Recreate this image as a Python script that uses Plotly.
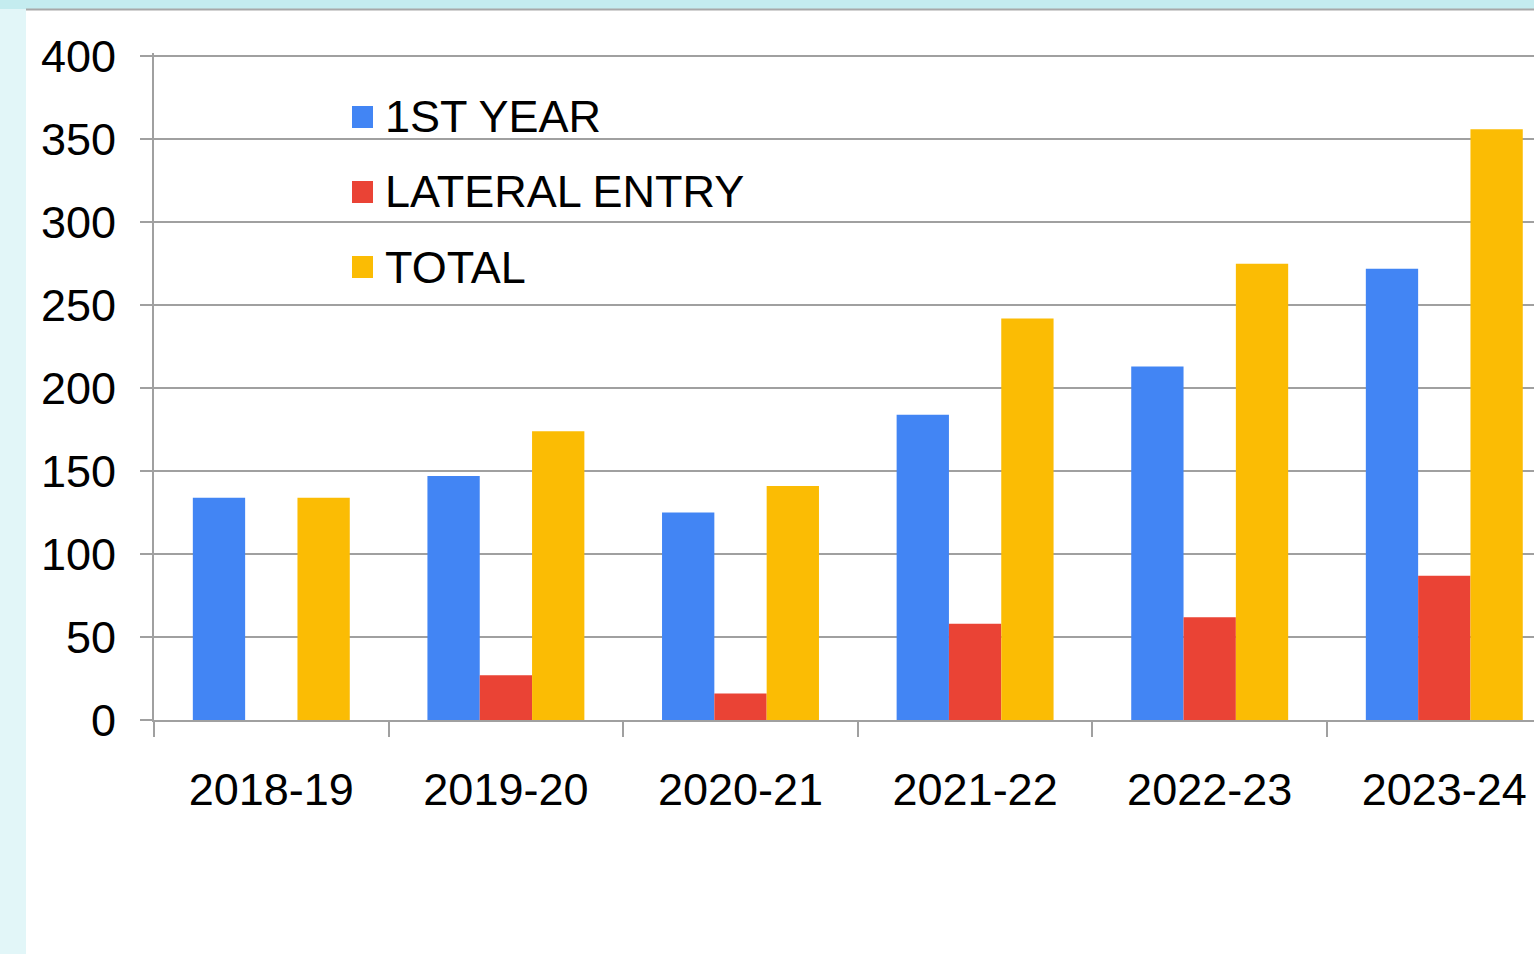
import plotly.graph_objects as go

categories = ["2018-19", "2019-20", "2020-21", "2021-22", "2022-23", "2023-24"]
first_year = [134, 147, 125, 184, 213, 272]
lateral_entry = [0, 27, 16, 58, 62, 87]
total = [134, 174, 141, 242, 275, 356]
series_names = ["1ST YEAR", "LATERAL ENTRY", "TOTAL"]
series_colors = ["#4285F4", "#EA4335", "#FBBC04"]
y_ticks = [0, 50, 100, 150, 200, 250, 300, 350, 400]

W, H = 1534, 954
L, T, B, R = 154, 53, 234, 0
PW = W - L - R
PH = H - T - B
CAT_PX = 234.6
FONT = "Liberation Sans, Arial, sans-serif"
FS = 45


def px_x(px):
    return (px - L) / PW


def px_y(py):
    return (H - B - py) / PH


fig = go.Figure()
for name, vals, col in zip(series_names, [first_year, lateral_entry, total], series_colors):
    fig.add_trace(go.Bar(x=categories, y=vals, name=name, marker=dict(color=col, line=dict(width=0)),
                         showlegend=False))

shapes = [
    # left cyan strip
    dict(type="rect", xref="paper", yref="paper", x0=px_x(0), x1=px_x(26), y0=px_y(H), y1=px_y(0),
         fillcolor="#e2f6f8", line=dict(width=0), layer="below"),
    # top cyan strip
    dict(type="rect", xref="paper", yref="paper", x0=px_x(0), x1=px_x(W), y0=px_y(9), y1=px_y(0),
         fillcolor="#c4ecef", line=dict(width=0), layer="below"),
    dict(type="line", xref="paper", yref="paper", x0=px_x(26), x1=px_x(W), y0=px_y(9.5), y1=px_y(9.5),
         line=dict(color="#a8a8a8", width=2), layer="below"),
]

annotations = []
legend_y = [117, 192, 267]
for name, col, cy in zip(series_names, series_colors, legend_y):
    shapes.append(dict(type="rect", xref="paper", yref="paper", x0=px_x(352), x1=px_x(373),
                       y0=px_y(cy + 11), y1=px_y(cy - 11), fillcolor=col, line=dict(width=0)))
    annotations.append(dict(xref="paper", yref="paper", x=px_x(383), y=px_y(cy), text=name,
                            showarrow=False, xanchor="left", yanchor="middle",
                            font=dict(family=FONT, size=FS, color="black")))

fig.update_layout(
    width=W, height=H,
    margin=dict(l=L, r=R, t=T, b=B, pad=0),
    paper_bgcolor="white", plot_bgcolor="white",
    barmode="group", bargap=0.331, bargroupgap=0,
    font=dict(family=FONT, size=FS, color="black"),
    shapes=shapes, annotations=annotations,
    showlegend=False,
)
fig.update_xaxes(
    type="category", range=[-0.5, -0.5 + PW / CAT_PX],
    showline=True, linecolor="#a0a0a0", linewidth=2,
    ticks="outside", tickson="boundaries", ticklen=15, tickwidth=2, tickcolor="#a0a0a0",
    showgrid=False, ticklabelstandoff=29,
    tickfont=dict(family=FONT, size=FS, color="black"),
)
fig.update_yaxes(
    range=[0, 402], tickvals=y_ticks,
    showline=True, linecolor="#a0a0a0", linewidth=2,
    ticks="outside", ticklen=12, tickwidth=2, tickcolor="#a0a0a0",
    showgrid=True, gridcolor="#a0a0a0", gridwidth=2, zeroline=False,
    ticklabelstandoff=15,
    tickfont=dict(family=FONT, size=FS, color="black"),
)

fig.write_html("out.html", config={"displayModeBar": False},
               post_script="document.body.style.margin='0';document.body.style.overflow='hidden';")
